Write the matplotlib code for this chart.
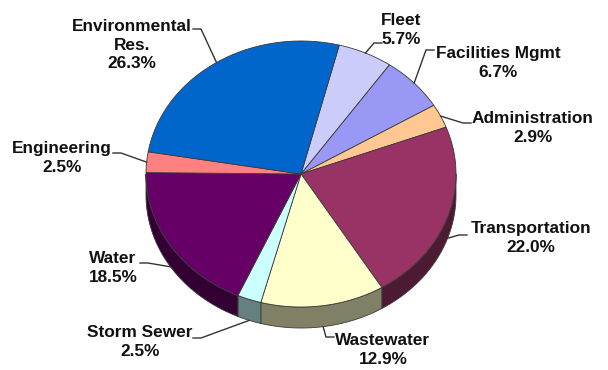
import numpy as np
import matplotlib
matplotlib.use("Agg")
import matplotlib.pyplot as plt
from matplotlib.patches import Polygon
from matplotlib.colors import to_rgb

# Budget shares, listed clockwise from the top of the pie
categories = ["Fleet", "Facilities Mgmt", "Administration", "Transportation",
              "Wastewater", "Storm Sewer", "Water", "Engineering",
              "Environmental\nRes."]
shares = [5.7, 6.7, 2.9, 22.0, 12.9, 2.5, 18.5, 2.5, 26.3]
colors = ["#ccccfa", "#9999f5", "#ffc792", "#993366", "#ffffcc",
          "#ccffff", "#660066", "#ff8080", "#0066cc"]

# label block centres and leader-line end points (pixel layout)
label_xy = [(401, 30), (498, 63), (533, 128), (531, 238), (383, 350),
            (140, 342), (113, 268), (62, 158), (132, 45)]
leader_end = [(382, 43), (434, 50), (471, 123), (467, 235), (334, 337),
              (193, 338), (140, 263), (113, 153), (193, 29)]

# pie geometry
CX, CY = 301.0, 174.0
RX, RY = 155.0, 133.0
DEPTH = 21.0
START = 14.3  # degrees clockwise from 12 o'clock

fig = plt.figure(figsize=(6.08, 3.70), dpi=100)
ax = fig.add_axes([0, 0, 1, 1])
ax.set_xlim(0, 608)
ax.set_ylim(370, 0)
ax.axis("off")


def rim(theta_deg, drop=0.0):
    t = np.radians(theta_deg)
    return CX + RX * np.sin(t), CY - RY * np.cos(t) + drop


def darker(c, f=0.5):
    r, g, b = to_rgb(c)
    return (r * f, g * f, b * f)


total = sum(shares)
spans = [s / total * 360.0 for s in shares]
bounds = START + np.concatenate([[0], np.cumsum(spans)])
edge = "#3a3a3a"

# outer walls of the front half
for i, col in enumerate(colors):
    lo = max(bounds[i], 90.0)
    hi = min(bounds[i + 1], 270.0)
    if hi <= lo:
        continue
    th = np.linspace(lo, hi, 80)
    xt, yt = rim(th)
    xb, yb = rim(th[::-1], DEPTH)
    pts = np.column_stack([np.concatenate([xt, xb]), np.concatenate([yt, yb])])
    ax.add_patch(Polygon(pts, closed=True, facecolor=darker(col),
                         edgecolor=edge, linewidth=0.6, zorder=1))

# top face
for i, col in enumerate(colors):
    th = np.linspace(bounds[i], bounds[i + 1], 120)
    xs, ys = rim(th)
    pts = np.column_stack([np.concatenate([[CX], xs]), np.concatenate([[CY], ys])])
    ax.add_patch(Polygon(pts, closed=True, facecolor=col,
                         edgecolor=edge, linewidth=0.6, zorder=2))

# labels with leader lines
for i, (name, val) in enumerate(zip(categories, shares)):
    mid = (bounds[i] + bounds[i + 1]) / 2.0
    m = mid % 360.0
    drop = DEPTH if 90.0 < m < 270.0 else 0.0
    axx, ayy = rim(mid, drop)
    ex, ey = leader_end[i]
    elbow_x = ex + 8 if axx > ex else ex - 8
    ax.plot([axx, elbow_x, ex], [ayy, ey, ey], color="#333333", lw=1.0,
            zorder=3, solid_joinstyle="miter")
    tx, ty = label_xy[i]
    ax.text(tx, ty, f"{name}\n{val:.1f}%", ha="center", va="center",
            multialignment="center", fontsize=12.4, fontweight="bold",
            family="Liberation Sans", color="#111111", linespacing=1.3,
            zorder=4)

fig.savefig("out.png", dpi=100, facecolor="white")
